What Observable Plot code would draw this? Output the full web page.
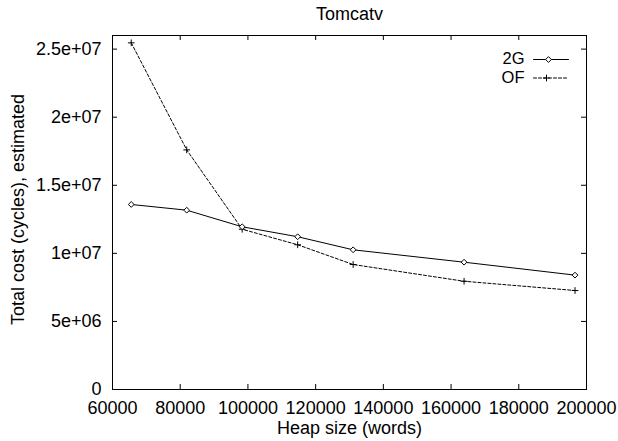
<!DOCTYPE html>
<html>
<head>
<meta charset="utf-8">
<script src="https://cdn.jsdelivr.net/npm/d3@7"></script>
<script src="https://cdn.jsdelivr.net/npm/@observablehq/plot@0.6"></script>
<style>
  html, body { margin: 0; padding: 0; background: #fff; }
</style>
</head>
<body>
<div id="chart"></div>
<script>
// ---- data ----
const title = "Tomcatv";
const xLabel = "Heap size (words)";
const yLabel = "Total cost (cycles), estimated";
const seriesNames = ["2G", "OF"];
const heapSizes = [65536, 81920, 98304, 114688, 131072, 163840, 196608];
const cost2G = [13.59e6, 13.17e6, 11.95e6, 11.22e6, 10.26e6, 9.35e6, 8.40e6];
const costOF = [25.46e6, 17.6e6, 11.77e6, 10.63e6, 9.18e6, 7.95e6, 7.27e6];
const xTicks = [60000, 80000, 100000, 120000, 140000, 160000, 180000, 200000];
const xTickLabels = ["60000", "80000", "100000", "120000", "140000", "160000", "180000", "200000"];
const yTicks = [0, 5e6, 1e7, 1.5e7, 2e7, 2.5e7];
const yTickLabels = ["0", "5e+06", "1e+07", "1.5e+07", "2e+07", "2.5e+07"];

const rows2G = heapSizes.map((x, i) => ({x, y: cost2G[i]}));
const rowsOF = heapSizes.map((x, i) => ({x, y: costOF[i]}));

const W = 618, H = 441;
const mL = 112, mR = 32, mT = 35, mB = 52;
const plotW = W - mL - mR, plotH = H - mT - mB;
const tick = 5;

const hLine = {draw(context, l) { context.moveTo(0, 0); context.lineTo(0, -l); }};

const chart = Plot.plot({
  width: W,
  height: H,
  marginLeft: mL,
  marginRight: mR,
  marginTop: mT,
  marginBottom: mB,
  style: {fontFamily: "'Liberation Sans', Arial, Helvetica, sans-serif", fontSize: "18px", color: "#000", background: "#fff"},
  x: {domain: [60000, 200000]},
  y: {domain: [0, 2.6e7]},
  marks: [
    // axis tick labels
    Plot.axisX({ticks: xTicks, tickFormat: d => xTickLabels[xTicks.indexOf(d)], tickSize: 0, tickPadding: 12, label: null, fill: "#000"}),
    Plot.axisY({ticks: yTicks, tickFormat: d => yTickLabels[yTicks.indexOf(d)], tickSize: 0, tickPadding: 11, label: null, fill: "#000"}),
    // inward ticks (mirrored on all four sides)
    Plot.tickX(xTicks, {x: d => d, insetTop: plotH - tick, stroke: "#000"}),
    Plot.tickX(xTicks, {x: d => d, insetBottom: plotH - tick, stroke: "#000"}),
    Plot.tickY(yTicks, {y: d => d, insetRight: plotW - tick, stroke: "#000"}),
    Plot.tickY(yTicks, {y: d => d, insetLeft: plotW - tick, stroke: "#000"}),
    Plot.frame({stroke: "#000", strokeWidth: 1}),
    // series
    Plot.line(rowsOF, {x: "x", y: "y", stroke: "#000", strokeWidth: 1, strokeDasharray: "3,2"}),
    Plot.dot(rowsOF, {x: "x", y: "y", symbol: "plus", r: 2.3, stroke: "#000", strokeWidth: 1}),
    Plot.line(rows2G, {x: "x", y: "y", stroke: "#000", strokeWidth: 1}),
    Plot.dot(rows2G, {x: "x", y: "y", symbol: "diamond2", r: 2.6, stroke: "#000", fill: "#fff", strokeWidth: 1}),
    // titles
    Plot.text([title], {frameAnchor: "top", dy: -21, textAnchor: "middle", lineAnchor: "middle", fill: "#000"}),
    Plot.text([xLabel], {frameAnchor: "bottom", dy: 39, textAnchor: "middle", lineAnchor: "middle", fill: "#000"}),
    Plot.text([yLabel], {frameAnchor: "left", dx: -94, dy: -3, rotate: -90, textAnchor: "middle", lineAnchor: "middle", fill: "#000"}),
    // legend
    Plot.text([seriesNames[0]], {frameAnchor: "top-right", dx: -62, dy: 23.5, textAnchor: "end", lineAnchor: "middle", fontSize: 16.5, fill: "#000"}),
    Plot.text([seriesNames[1]], {frameAnchor: "top-right", dx: -62, dy: 42.5, textAnchor: "end", lineAnchor: "middle", fontSize: 16.5, fill: "#000"}),
    Plot.vector([seriesNames[0]], {frameAnchor: "top-right", dx: -53, dy: 24, rotate: 90, length: 35, anchor: "start", shape: hLine, stroke: "#000", strokeWidth: 1}),
    Plot.vector([seriesNames[1]], {frameAnchor: "top-right", dx: -53, dy: 42.5, rotate: 90, length: 35, anchor: "start", shape: hLine, stroke: "#000", strokeWidth: 1, strokeDasharray: "3,2"}),
    Plot.dot([seriesNames[0]], {frameAnchor: "top-right", dx: -38, dy: 24, symbol: "diamond2", r: 2.6, stroke: "#000", fill: "#fff", strokeWidth: 1}),
    Plot.dot([seriesNames[1]], {frameAnchor: "top-right", dx: -40, dy: 42.5, symbol: "plus", r: 2.3, stroke: "#000", strokeWidth: 1})
  ]
});
document.getElementById("chart").appendChild(chart);
</script>
</body>
</html>
